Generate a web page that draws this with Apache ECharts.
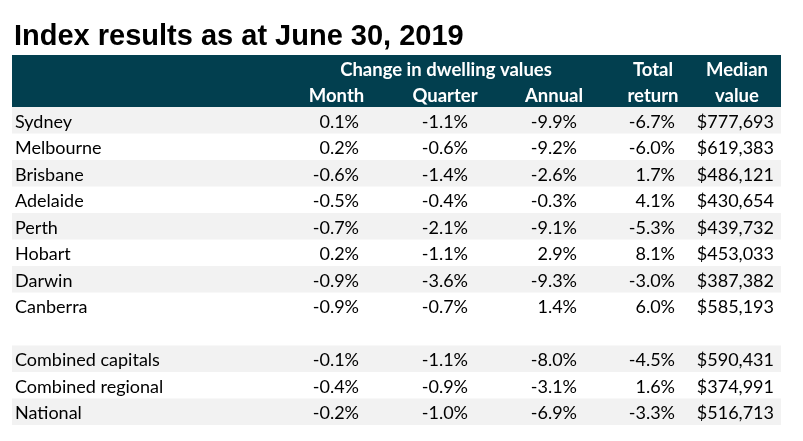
<!DOCTYPE html>
<html><head><meta charset="utf-8">
<script src="https://cdn.jsdelivr.net/npm/echarts@6/dist/echarts.min.js"></script>
<style>html,body{margin:0;padding:0;background:#fff}#c{width:803px;height:441px}</style>
</head><body><div id="c"></div>
<script>
// ---- data ----
const titleText = 'Index results as at June 30, 2019';
const groupHeader = 'Change in dwelling values';
const colHeadTop = ['', '', '', 'Total', 'Median'];
const colHeadBottom = ['Month', 'Quarter', 'Annual', 'return', 'value'];
const regions = ['Sydney','Melbourne','Brisbane','Adelaide','Perth','Hobart','Darwin','Canberra','','Combined capitals','Combined regional','National'];
const month   = [0.1, 0.2, -0.6, -0.5, -0.7, 0.2, -0.9, -0.9, null, -0.1, -0.4, -0.2];
const quarter = [-1.1, -0.6, -1.4, -0.4, -2.1, -1.1, -3.6, -0.7, null, -1.1, -0.9, -1.0];
const annual  = [-9.9, -9.2, -2.6, -0.3, -9.1, 2.9, -9.3, 1.4, null, -8.0, -3.1, -6.9];
const totalReturn = [-6.7, -6.0, 1.7, 4.1, -5.3, 8.1, -3.0, 6.0, null, -4.5, 1.6, -3.3];
const medianValue = [777693, 619383, 486121, 430654, 439732, 453033, 387382, 585193, null, 590431, 374991, 516713];

// ---- layout / style ----
const GL = 12, GW = 769, GT = 107, RH = 26.5;
const shadedRows = [0,2,4,6,9,11];
const colRight = [347, 456, 565, 663, 762]; // relative to grid left
const headCenter = [324.5, 433, 542, 641, 725];
const groupCenter = 434;
const bodyFont = 'Lato';
const HEAD = '#023f4f';
const BODY_SIZE = 18, HEAD_SIZE = 18.5;

const pct = v => v == null ? '' : v.toFixed(1) + '%';
const money = v => v == null ? '' : '$' + v.toLocaleString('en-US');
const cols = [month, quarter, annual, totalReturn];

const chart = echarts.init(document.getElementById('c'), null, {renderer: 'canvas'});

const headFont = 'bold ' + HEAD_SIZE + 'px ' + bodyFont;
const graphics = [
  {type: 'rect', shape: {x: GL, y: 55, width: GW, height: 52}, style: {fill: HEAD}, silent: true},
  {type: 'text', x: GL + groupCenter, y: 70, style: {text: groupHeader, fill: '#fff', font: headFont, textAlign: 'center', textVerticalAlign: 'middle'}, silent: true}
];
colHeadTop.forEach((t, k) => { if (t) graphics.push({type: 'text', x: GL + headCenter[k], y: 70, style: {text: t, fill: '#fff', font: headFont, textAlign: 'center', textVerticalAlign: 'middle'}, silent: true}); });
colHeadBottom.forEach((t, k) => graphics.push({type: 'text', x: GL + headCenter[k], y: 96.5, style: {text: t, fill: '#fff', font: headFont, textAlign: 'center', textVerticalAlign: 'middle'}, silent: true}));

chart.setOption({
  animation: false,
  title: {text: titleText, left: 9, top: 17, textStyle: {fontFamily: 'Liberation Sans', fontWeight: 'bold', fontSize: 29, color: '#000'}},
  grid: {left: GL, top: GT, width: GW, height: RH * regions.length},
  xAxis: {type: 'value', min: 0, max: GW, show: false},
  yAxis: {type: 'category', data: regions.map((_, i) => i), inverse: true, show: false},
  graphic: graphics,
  series: [{
    type: 'custom',
    silent: true,
    clip: false,
    data: regions.map((_, i) => [0, i]),
    encode: {x: 0, y: 1},
    renderItem: function (params, api) {
      const i = api.value(1);
      const p = api.coord([0, i]);
      const h = api.size([0, 1])[1];
      const children = [];
      if (shadedRows.indexOf(i) >= 0) {
        children.push({type: 'rect', shape: {x: p[0], y: p[1] - h / 2, width: api.size([GW, 0])[0], height: h}, style: {fill: '#f2f2f2'}});
      }
      const ty = p[1] + 1.5;
      const f = BODY_SIZE + 'px ' + bodyFont;
      children.push({type: 'text', x: p[0] + 3, y: ty, style: {text: regions[i], fill: '#000', font: f, textAlign: 'left', textVerticalAlign: 'middle'}});
      cols.forEach((arr, k) => {
        children.push({type: 'text', x: api.coord([colRight[k], i])[0], y: ty, style: {text: pct(arr[i]), fill: '#000', font: f, textAlign: 'right', textVerticalAlign: 'middle'}});
      });
      children.push({type: 'text', x: api.coord([colRight[4], i])[0], y: ty, style: {text: money(medianValue[i]), fill: '#000', font: f, textAlign: 'right', textVerticalAlign: 'middle'}});
      return {type: 'group', children: children};
    }
  }]
});
</script></body></html>
